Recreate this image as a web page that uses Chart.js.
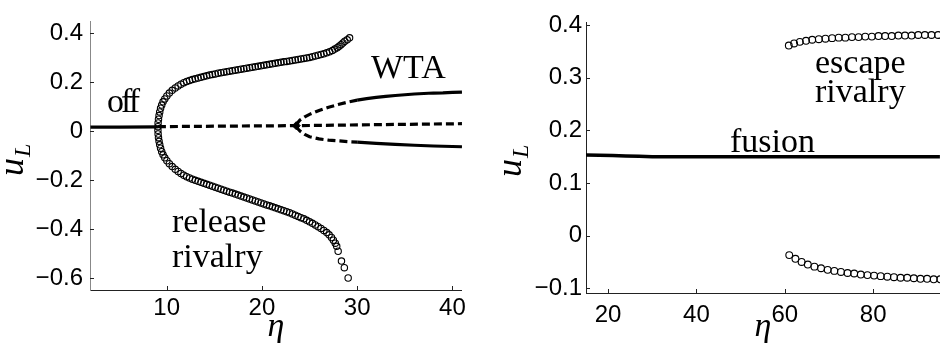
<!DOCTYPE html>
<html>
<head>
<meta charset="utf-8">
<script src="https://cdn.jsdelivr.net/npm/chart.js@4.4.1/dist/chart.umd.min.js"></script>
<style>
  html, body { margin: 0; padding: 0; background: #fff; }
  #wrap { position: relative; width: 945px; height: 347px; }
  #c1 { position: absolute; left: 0; top: 0; }
  #c2 { position: absolute; left: 470px; top: 0; }
</style>
</head>
<body>
<div id="wrap">
  <canvas id="c1" width="470" height="347"></canvas>
  <canvas id="c2" width="475" height="347"></canvas>
</div>
<script>
// ---------------- LEFT PANEL DATA ----------------
const leftXTicks = [10, 20, 30, 40];
const leftYTicks = [-0.6, -0.4, -0.2, 0, 0.2, 0.4];

// "off" stable branch (solid)
const offEta = [2, 5, 9.08];
const offU   = [0.016, 0.016, 0.017];

// unstable middle branch (dashed)
const midEta = [9.08, 16, 23.6, 32, 41];
const midU   = [0.018, 0.020, 0.022, 0.026, 0.030];

// WTA branches emerging at the branch point (dashed part, then solid part)
const wtaUpDashEta = [23.6, 23.8, 24.0, 24.5, 25, 26, 27, 28, 29, 30];
const wtaUpDashU   = [0.022, 0.036, 0.045, 0.058, 0.068, 0.084, 0.097, 0.108, 0.118, 0.126];
const wtaUpEta = [30, 31, 32, 33, 34, 35, 36, 37, 38, 39, 40, 41];
const wtaUpU   = [0.126, 0.132, 0.137, 0.141, 0.145, 0.148, 0.151, 0.153, 0.155, 0.156, 0.158, 0.159];
const wtaLoDashEta = [23.6, 23.8, 24.0, 24.5, 25, 26, 27, 28, 29, 30];
const wtaLoDashU   = [0.022, 0.008, 0.000, -0.014, -0.023, -0.032, -0.037, -0.040, -0.043, -0.045];
const wtaLoEta = [30, 32, 34, 36, 38, 40, 41];
const wtaLoU   = [-0.045, -0.050, -0.054, -0.058, -0.061, -0.063, -0.064];

const branchEta = [23.6];
const branchU   = [0.022];

// release rivalry oscillation extrema (circles)
const relUpEta = [9.08, 9.10, 9.14, 9.20, 9.27, 9.36, 9.48, 9.62, 9.80, 10.02, 10.28, 10.58, 10.90, 11.20, 11.50, 11.80,
  12.10, 12.40, 12.70, 13.00, 13.30, 13.60, 13.90, 14.20, 14.50, 14.80, 15.10, 15.40, 15.70, 16.00, 16.30, 16.60,
  16.90, 17.20, 17.50, 17.80, 18.10, 18.40, 18.70, 19.00, 19.30, 19.60, 19.90, 20.20, 20.50, 20.80, 21.10, 21.40,
  21.70, 22.00, 22.30, 22.60, 22.90, 23.20, 23.50, 23.80, 24.10, 24.40, 24.70, 25.00, 25.30, 25.60, 25.90, 26.20,
  26.50, 26.80, 27.10, 27.40, 27.65, 27.90, 28.10, 28.30, 28.50, 28.70, 28.95, 29.20];
const relUpU = [0.018, 0.033, 0.048, 0.063, 0.078, 0.093, 0.106, 0.119, 0.131, 0.143, 0.155, 0.166, 0.176, 0.184, 0.191, 0.197,
  0.202, 0.206, 0.210, 0.213, 0.216, 0.219, 0.222, 0.225, 0.228, 0.231, 0.233, 0.236, 0.238, 0.240, 0.242, 0.244,
  0.246, 0.248, 0.250, 0.252, 0.254, 0.256, 0.258, 0.260, 0.262, 0.264, 0.266, 0.268, 0.270, 0.272, 0.274, 0.276,
  0.278, 0.280, 0.282, 0.284, 0.286, 0.288, 0.290, 0.292, 0.294, 0.296, 0.298, 0.300, 0.303, 0.306, 0.309, 0.312,
  0.315, 0.319, 0.323, 0.328, 0.334, 0.340, 0.346, 0.352, 0.359, 0.366, 0.372, 0.380];

const relLoEta = [9.08, 9.10, 9.14, 9.20, 9.27, 9.36, 9.48, 9.62, 9.80, 10.02, 10.28, 10.58, 10.90, 11.20, 11.50, 11.80,
  12.10, 12.40, 12.70, 13.00, 13.30, 13.60, 13.90, 14.20, 14.50, 14.80, 15.10, 15.40, 15.70, 16.00, 16.30, 16.60,
  16.90, 17.20, 17.50, 17.80, 18.10, 18.40, 18.70, 19.00, 19.30, 19.60, 19.90, 20.20, 20.50, 20.80, 21.10, 21.40,
  21.70, 22.00, 22.30, 22.60, 22.90, 23.20, 23.50, 23.80, 24.10, 24.40, 24.70, 25.00, 25.30, 25.60, 25.90, 26.20,
  26.50, 26.80, 27.05, 27.30, 27.50, 27.70, 27.85, 28.00, 28.35, 28.65, 29.05];
const relLoU = [0.003, -0.012, -0.027, -0.042, -0.056, -0.070, -0.084, -0.097, -0.109, -0.121, -0.133, -0.145, -0.156, -0.165, -0.173, -0.180,
  -0.186, -0.191, -0.196, -0.201, -0.205, -0.209, -0.213, -0.217, -0.221, -0.225, -0.229, -0.233, -0.237, -0.241, -0.245, -0.249,
  -0.253, -0.257, -0.261, -0.265, -0.269, -0.273, -0.277, -0.281, -0.285, -0.289, -0.293, -0.297, -0.301, -0.305, -0.309, -0.313,
  -0.317, -0.321, -0.325, -0.329, -0.333, -0.338, -0.343, -0.348, -0.353, -0.358, -0.364, -0.370, -0.376, -0.383, -0.390, -0.397,
  -0.405, -0.414, -0.423, -0.434, -0.445, -0.457, -0.470, -0.490, -0.530, -0.557, -0.599];

// ---------------- RIGHT PANEL DATA ----------------
const rightXTicks = [20, 40, 60, 80];
const rightYTicks = [-0.1, 0, 0.1, 0.2, 0.3, 0.4];

const fusionEta = [15, 18, 21, 24, 27, 30, 40, 60, 80, 95.1];
const fusionU   = [0.153, 0.1525, 0.152, 0.151, 0.1505, 0.150, 0.150, 0.150, 0.150, 0.150];

const escUpEta = [60.9, 62.1, 63.4, 64.8, 66.2, 67.7, 69.2, 70.7, 72.2, 73.7, 75.2, 76.7, 78.2, 79.7, 81.2, 82.7,
  84.2, 85.7, 87.2, 88.7, 90.2, 91.7, 93.2, 94.7, 96.2];
const escUpU = [0.361, 0.365, 0.368, 0.370, 0.372, 0.373, 0.374, 0.375, 0.376, 0.376, 0.377, 0.377, 0.378, 0.378, 0.379, 0.379,
  0.379, 0.380, 0.380, 0.380, 0.381, 0.381, 0.381, 0.381, 0.382];
const escLoEta = [61.0, 62.4, 63.8, 65.2, 66.7, 68.2, 69.7, 71.2, 72.7, 74.2, 75.7, 77.2, 78.7, 80.2, 81.7, 83.2,
  84.7, 86.2, 87.7, 89.2, 90.7, 92.2, 93.7, 95.2];
const escLoU = [-0.037, -0.044, -0.050, -0.055, -0.059, -0.062, -0.065, -0.067, -0.069, -0.071, -0.072, -0.074, -0.075, -0.076, -0.077, -0.078,
  -0.079, -0.080, -0.080, -0.081, -0.082, -0.082, -0.083, -0.083];

// ---------------- helpers ----------------
function pts(xs, ys) { return xs.map((x, i) => ({ x: x, y: ys[i] })); }
function fmt(v) {
  if (Math.abs(v) < 1e-9) return '0';
  return (v < 0 ? '\u2212' : '') + String(Math.abs(v));
}
function lineDs(xs, ys, dashed, width) {
  return {
    data: pts(xs, ys), showLine: true, borderColor: '#000', borderWidth: width || 3.2,
    borderDash: dashed ? [8, 4] : [], pointRadius: 0, tension: 0, borderCapStyle: 'butt'
  };
}
function circDs(xs, ys, r) {
  return {
    data: pts(xs, ys), showLine: false, pointRadius: r, pointStyle: 'circle',
    pointBorderColor: '#000', pointBorderWidth: 1.1, pointBackgroundColor: 'rgba(255,255,255,0)'
  };
}

const tickFont = { family: '"Liberation Sans", Arial, sans-serif', size: 24 };
const serif = '"Liberation Serif", "Times New Roman", serif';

function decorPlugin(cfg) {
  return {
    id: 'decor' + cfg.name,
    afterDatasetsDraw(chart) {
      const ctx = chart.ctx;
      const xs = chart.scales.x, ys = chart.scales.y;
      const a = chart.chartArea;
      ctx.save();
      // inward tick marks
      ctx.strokeStyle = '#222';
      ctx.lineWidth = 1;
      ctx.beginPath();
      xs.ticks.forEach(t => {
        const px = Math.round(xs.getPixelForValue(t.value)) + 0.5;
        ctx.moveTo(px, a.bottom); ctx.lineTo(px, a.bottom - 4);
      });
      ys.ticks.forEach(t => {
        const py = Math.round(ys.getPixelForValue(t.value)) + 0.5;
        ctx.moveTo(a.left, py); ctx.lineTo(a.left + 4, py);
      });
      ctx.stroke();
      // annotations
      ctx.fillStyle = '#000';
      ctx.textAlign = 'left';
      ctx.textBaseline = 'alphabetic';
      cfg.labels.forEach(l => {
        ctx.font = (l.size || 34) + 'px ' + serif;
        ctx.letterSpacing = (l.ls || 0) + 'px';
        ctx.fillText(l.text, l.x, l.y);
      });
      ctx.letterSpacing = '0px';
      // y-axis title u_L (rotated)
      ctx.save();
      ctx.translate(cfg.uL.x, cfg.uL.y);
      ctx.rotate(-Math.PI / 2);
      ctx.font = 'italic 36px ' + serif;
      ctx.fillText('u', 0, 0);
      const w = ctx.measureText('u').width;
      ctx.font = 'italic 24px ' + serif;
      ctx.fillText('L', w + 1, 7);
      ctx.restore();
      // x-axis title eta
      ctx.font = 'italic 34px ' + serif;
      ctx.textAlign = 'center';
      ctx.fillText('\u03B7', (a.left + a.right) / 2, cfg.etaY);
      ctx.restore();
    }
  };
}

function makeChart(el, datasets, o) {
  return new Chart(el, {
    type: 'scatter',
    data: { datasets: datasets },
    options: {
      responsive: false, animation: false, devicePixelRatio: 1,
      layout: { padding: o.padding },
      plugins: { legend: { display: false }, tooltip: { enabled: false } },
      scales: {
        x: {
          type: 'linear', min: o.xMin, max: o.xMax,
          afterBuildTicks: s => { s.ticks = o.xTicks.map(v => ({ value: v })); },
          afterFit: s => { s.height = o.xH; },
          grid: { display: true, drawOnChartArea: false, drawTicks: false },
          border: { display: true, color: '#222', width: 1 },
          ticks: { font: tickFont, color: '#000', padding: o.xPad, maxRotation: 0, callback: v => fmt(v) }
        },
        y: {
          type: 'linear', min: o.yMin, max: o.yMax,
          afterBuildTicks: s => { s.ticks = o.yTicks.map(v => ({ value: v })); },
          afterFit: s => { s.width = o.yW; },
          grid: { display: true, drawOnChartArea: false, drawTicks: false },
          border: { display: true, color: o.yBorder, width: 1 },
          ticks: { font: tickFont, color: '#000', padding: o.yPad, callback: v => fmt(v) }
        }
      }
    },
    plugins: [decorPlugin(o.decor)]
  });
}

// LEFT chart
makeChart(document.getElementById('c1'), [
  lineDs(offEta, offU, false),
  lineDs(midEta, midU, true),
  lineDs(wtaUpDashEta, wtaUpDashU, true),
  lineDs(wtaUpEta, wtaUpU, false),
  lineDs(wtaLoDashEta, wtaLoDashU, true),
  lineDs(wtaLoEta, wtaLoU, false),
  { data: pts(branchEta, branchU), showLine: false, pointRadius: 4, pointStyle: 'rectRot',
    pointBackgroundColor: '#000', pointBorderColor: '#000', pointBorderWidth: 1 },
  circDs(relUpEta, relUpU, 3.2),
  circDs(relLoEta, relLoU, 3.2)
], {
  padding: { left: 0, right: 8, top: 10, bottom: 0 },
  xMin: 1.95, xMax: 41.0, yMin: -0.648, yMax: 0.447,
  xTicks: leftXTicks, yTicks: leftYTicks,
  xH: 57, yW: 90, xPad: 4, yPad: 7, yBorder: '#888',
  decor: {
    name: 'L',
    labels: [
      { text: 'off', x: 107, y: 112, ls: -3 },
      { text: 'WTA', x: 371, y: 78 },
      { text: 'release', x: 172, y: 232 },
      { text: 'rivalry', x: 172, y: 267 }
    ],
    uL: { x: 23, y: 176 },
    etaY: 336
  }
});

// RIGHT chart
makeChart(document.getElementById('c2'), [
  lineDs(fusionEta, fusionU, false, 3.5),
  circDs(escUpEta, escUpU, 3.4),
  circDs(escLoEta, escLoU, 3.4)
], {
  padding: { left: 0, right: 2, top: 22, bottom: 0 },
  xMin: 15, xMax: 95.1, yMin: -0.109, yMax: 0.4057,
  xTicks: rightXTicks, yTicks: rightYTicks,
  xH: 54, yW: 116, xPad: 8, yPad: 4, yBorder: '#222',
  decor: {
    name: 'R',
    labels: [
      { text: 'escape', x: 345, y: 73 },
      { text: 'rivalry', x: 345, y: 102 },
      { text: 'fusion', x: 260, y: 152 }
    ],
    uL: { x: 51, y: 177 },
    etaY: 336
  }
});
</script>
</body>
</html>
